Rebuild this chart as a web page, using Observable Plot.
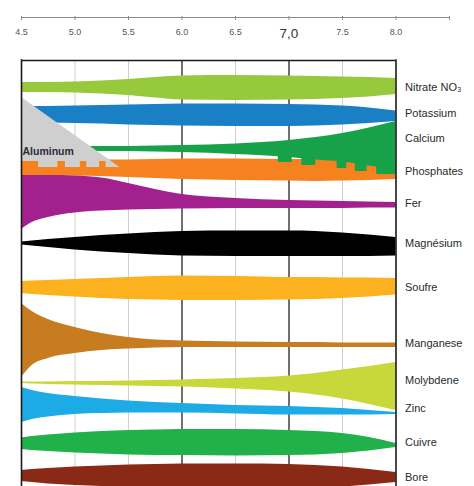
<!DOCTYPE html>
<html>
<head>
<meta charset="utf-8">
<script src="https://cdn.jsdelivr.net/npm/d3@7"></script>
<script src="https://cdn.jsdelivr.net/npm/@observablehq/plot@0.6"></script>
<style>
  html, body { margin: 0; padding: 0; background: #fff; }
  #chart { width: 474px; height: 486px; overflow: hidden; }
</style>
</head>
<body>
<div id="chart"></div>
<script>
// ---- Data ----
const pH = [4.5, 4.6, 4.75, 5.0, 5.25, 5.5, 5.75, 6.0, 6.5, 7.0, 7.25, 7.5, 7.75, 8.0];

const nutrients = ["Nitrate NO₃", "Potassium", "Calcium", "Phosphates", "Fer", "Magnésium",
                   "Soufre", "Manganese", "Molybdene", "Zinc", "Cuivre", "Bore"];
const colors = ["#97c93d", "#1a80c6", "#17a24a", "#f5821f", "#a3208f", "#000000",
                "#fbb21e", "#c67c1f", "#c8d83b", "#1dabe5", "#20b14b", "#8b2917"];
const labelRow = [87, 113, 138, 171, 203, 243, 287, 343, 380, 408, 442, 477];

// upper / lower edge of each availability band, at each pH of the grid
const nitrateTop    = [82, 82, 82, 81.5, 80.5, 79, 77, 75.5, 75, 75.5, 76, 76.5, 77, 78];
const nitrateBot    = [92, 92, 92, 92.5, 93.5, 95, 97.5, 99.5, 100, 99.5, 99, 98, 96.5, 94];
const potassiumTop  = [106, 106, 106, 105.5, 105, 104.5, 104, 103.5, 103.5, 104, 104.5, 105.5, 107.5, 110.5];
const potassiumBot  = [122, 122, 122.5, 123, 123.5, 124.5, 125, 125.5, 126, 126, 125.5, 124.5, 123, 121];
const calciumTop    = [146, 146, 146, 146, 146, 146, 145.5, 145, 143.5, 140, 137, 133, 127.5, 121];
const calciumBot    = [151, 151, 151, 151, 151, 151, 151.5, 152, 154, 157, 159.5, 161.5, 165.5, 169];
const phosphTop     = [159.5, 159.5, 159.5, 159.5, 159.5, 159.5, 159, 158.5, 158.5, 159, 159, 159.5, 160, 161];
const phosphBot     = [175, 175, 175, 175.5, 176, 177, 178, 179, 180, 180.5, 181, 180.5, 180, 179];
const ferTop        = [175, 175, 175, 175.5, 177.5, 183, 189, 194, 198, 200, 200.5, 201, 201.5, 202];
const ferBot        = [229, 222, 217, 212.5, 210.5, 209.5, 209, 208.5, 208, 208, 208, 208, 207.5, 207.5];
const magnesiumTop  = [241.5, 240.5, 239, 237, 235, 233.5, 232, 231, 230.5, 230.5, 231, 232.5, 234.5, 237];
const magnesiumBot  = [244.5, 245.5, 247, 249.5, 251.5, 253, 254.5, 255.5, 256, 256, 256, 256, 256, 255.5];
const soufreTop     = [281, 280.5, 280, 279, 278, 277, 276, 275.5, 276, 277, 277, 277.5, 277.5, 278];
const soufreBot     = [293, 294, 295, 296.5, 298, 299, 299.5, 300, 300, 299.5, 299, 298, 296.5, 294.5];
const manganeseTop  = [303, 311, 319, 327, 333, 337, 339.5, 340.5, 341.5, 342, 342, 342.5, 342.5, 342.5];
const manganeseBot  = [377, 365, 358, 353, 350, 348.5, 347.5, 347, 347, 347, 347, 347, 347, 347];
const molybdTop     = [381.5, 381.5, 381.5, 381, 381, 380.5, 380, 379.5, 378, 375.5, 373, 369.5, 366, 362];
const molybdBot     = [383, 383.5, 384, 384.5, 385, 385.5, 386, 386.5, 388.5, 391.5, 394.5, 398.5, 404, 410];
const zincTop       = [387, 390, 393, 396, 398.5, 400.5, 402, 403, 405, 406, 407, 408, 410, 412];
const zincBot       = [422, 419, 416.5, 414, 413, 412.5, 412.5, 412.5, 413.5, 414.5, 414.5, 414.5, 414.5, 414];
const cuivreTop     = [437.5, 436, 434.5, 432.5, 431, 430, 429.5, 429, 429, 430, 431, 433, 437, 443];
const cuivreBot     = [449, 450, 451, 452.5, 453.5, 454.5, 455, 455, 455.5, 455, 454.5, 453, 450.5, 447];
const boreTop       = [470, 469, 468, 466.5, 465.5, 464.5, 464, 463.5, 463.5, 464, 465, 466.5, 469, 472];
const boreBot       = [481, 482, 483.5, 485, 486, 487, 488, 488, 488, 488, 487.5, 486.5, 484.5, 482];

const tops = [nitrateTop, potassiumTop, calciumTop, phosphTop, ferTop, magnesiumTop,
              soufreTop, manganeseTop, molybdTop, zincTop, cuivreTop, boreTop];
const bots = [nitrateBot, potassiumBot, calciumBot, phosphBot, ferBot, magnesiumBot,
              soufreBot, manganeseBot, molybdBot, zincBot, cuivreBot, boreBot];

// Aluminum (toxic zone) wedge
const aluPH  = [4.5, 5.42];
const aluTop = [97, 167];
const aluBot = [167, 167];

// notches: phosphate teeth into aluminum, calcium teeth into phosphates
const phTeethStart = [4.5, 4.84, 5.05, 5.23];
const phTeethEnd   = [4.66, 4.91, 5.11, 5.29];
const phTeethTop   = [161, 161, 161, 161];
const caTeethStart = [6.9, 7.12, 7.45, 7.62, 7.82];
const caTeethEnd   = [7.03, 7.25, 7.54, 7.73, 8.0];
const caTeethBot   = [162, 165, 168, 171, 174];

// axis
const tickValues = [4.5, 5.0, 5.5, 6.0, 6.5, 7.0, 7.5, 8.0];
const tickLabels = ["4.5", "5.0", "5.5", "6.0", "6.5", "7,0", "7.5", "8.0"];
const axisEnd = 8.5;
const lightGrid = [5.0, 5.5, 6.5, 7.5];
const darkGrid = [6.0, 7.0];

// ---- layout constants (y units) ----
const axisY = 17, frameTop = 60, frameBottom = 492;

// ---- tables ----
const rows = nutrients.flatMap((name, i) =>
  pH.map((p, j) => ({name, pH: p, top: tops[i][j], bottom: bots[i][j]})));
const byName = n => rows.filter(d => d.name === n);
const alu = aluPH.map((p, j) => ({pH: p, top: aluTop[j], bottom: aluBot[j]}));
const phTeeth = phTeethStart.map((s, j) => ({x1: s, x2: phTeethEnd[j], y1: phTeethTop[j], y2: 167.5}));
const caBase = d3.scaleLinear().domain(pH).range(calciumBot);
const caTeeth = caTeethStart.map((s, j) => ({x1: s, x2: caTeethEnd[j], y1: caBase(s) - 4, y2: caTeethBot[j]}));
const ticks = tickValues.map((v, i) => ({v, label: tickLabels[i]}));

const font = "Liberation Sans, Arial, Helvetica, sans-serif";
const band = (name, i) => Plot.areaY(byName(name), {
  x: "pH", y1: "top", y2: "bottom", fill: colors[i], curve: "monotone-x"
});

const chart = Plot.plot({
  width: 474,
  height: 486,
  margin: 0,
  style: {background: "#fff", fontFamily: font},
  x: {domain: [4.5, 8.5], range: [21, 449], axis: null},
  y: {domain: [0, 486], range: [0, 486], axis: null},
  marks: [
    // grid
    Plot.ruleX(lightGrid, {y1: frameTop, y2: frameBottom, stroke: "#cfcfcf", strokeWidth: 1}),
    Plot.ruleX(darkGrid, {y1: frameTop, y2: frameBottom, stroke: "#333", strokeWidth: 1.4}),
    // bands in drawing order
    band("Nitrate NO₃", 0),
    band("Potassium", 1),
    band("Phosphates", 3),
    band("Calcium", 2),
    Plot.rect(caTeeth, {x1: "x1", x2: "x2", y1: "y1", y2: "y2", fill: colors[2]}),
    Plot.areaY(alu, {x: "pH", y1: "bottom", y2: "top", fill: "#cfcfcf", curve: "linear"}),
    Plot.rect(phTeeth, {x1: "x1", x2: "x2", y1: "y1", y2: "y2", fill: colors[3]}),
    ...nutrients.slice(4).map((n, k) => band(n, k + 4)),
    Plot.text(["Aluminum"], {x: 4.5, y: 151, dx: 1, text: d => d, textAnchor: "start",
      fontWeight: "bold", fontSize: 10.5, fill: "#2b2b36"}),
    // frame
    Plot.ruleY([frameTop], {x1: 4.5, x2: 8.0, stroke: "#1a1a1a", strokeWidth: 1.6}),
    Plot.ruleX([4.5, 8.0], {y1: frameTop - 0.8, y2: frameBottom, stroke: "#1a1a1a", strokeWidth: 1.6}),
    // top axis
    Plot.ruleY([axisY], {x1: 4.5, x2: axisEnd, stroke: "#8a8a8a", strokeWidth: 1}),
    Plot.ruleX([...tickValues, axisEnd], {y1: axisY - 1, y2: axisY + 3, stroke: "#8a8a8a"}),
    Plot.text(ticks.filter(d => d.v !== 7.0), {x: "v", y: axisY + 15, text: "label",
      fontSize: 9, fill: "#555"}),
    Plot.text(ticks.filter(d => d.v === 7.0), {x: "v", y: axisY + 16, text: "label",
      fontSize: 13.5, fill: "#333"}),
    // nutrient labels
    Plot.text(nutrients, {x: 8.0, dx: 9, y: (d, i) => labelRow[i], text: d => d,
      textAnchor: "start", fontSize: 11, fill: "#2a2a2a"})
  ]
});
document.getElementById("chart").append(chart);
</script>
</body>
</html>
